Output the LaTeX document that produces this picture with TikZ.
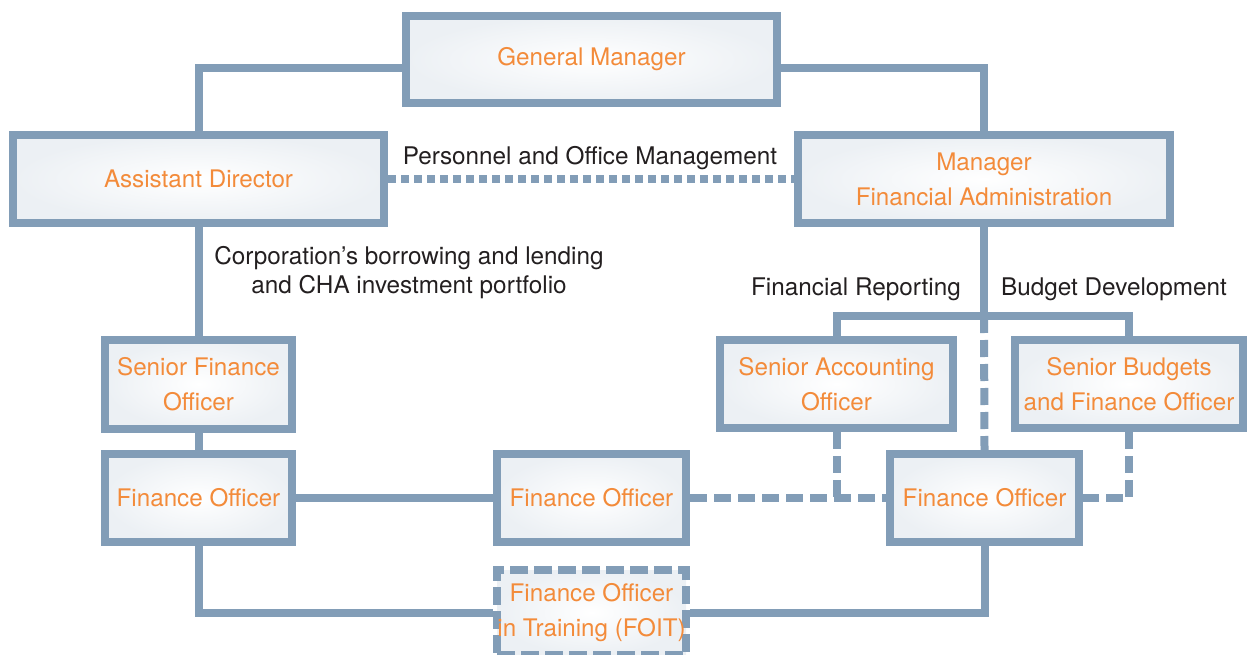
\documentclass[tikz,border=0pt]{standalone}
\usepackage{fontspec}
\setmainfont{TeX Gyre Heros}
\definecolor{lineblue}{RGB}{130,157,183}
\definecolor{orangetxt}{RGB}{243,139,58}
\definecolor{boxedge}{RGB}{236,240,244}
\definecolor{labeltxt}{RGB}{35,31,32}
\tikzset{
  orgbox/.style={draw=lineblue, line width=8pt, inner color=white, outer color=boxedge,
    text=orangetxt, align=center, inner sep=0pt, font=\fontsize{24.2}{35}\selectfont},
  conn/.style={draw=lineblue, line width=8pt},
  dashconn/.style={conn, dash pattern=on 17pt off 7pt},
  dotconn/.style={conn, dash pattern=on 8pt off 5pt},
  lbl/.style={text=labeltxt, align=center, inner sep=0pt, font=\fontsize{24.3}{29}\selectfont},
}
\begin{document}
\begin{tikzpicture}[x=1pt,y=-1pt]
\useasboundingbox (0,0) rectangle (1249,655);
% boxes
\node[orgbox, minimum width=371pt, minimum height=87pt] (GM) at (591.5,59.5) {General Manager};
\node[orgbox, minimum width=371pt, minimum height=88pt] (AD) at (198.5,179) {Assistant Director};
\node[orgbox, minimum width=372pt, minimum height=88pt] (MFA) at (984,179) {Manager\\Financial Administration};
\node[orgbox, minimum width=187pt, minimum height=89pt] (SFO) at (198.5,384) {Senior Finance\\Officer};
\node[orgbox, minimum width=187pt, minimum height=88pt] (FOL) at (198.5,498) {Finance Officer};
\node[orgbox, minimum width=189pt, minimum height=88pt] (FOM) at (591.5,498) {Finance Officer};
\node[orgbox, minimum width=189pt, minimum height=88pt] (FOR) at (984.5,498) {Finance Officer};
\node[orgbox, minimum width=233pt, minimum height=88pt] (SAO) at (836.5,384) {Senior Accounting\\Officer};
\node[orgbox, minimum width=228pt, minimum height=88pt] (SBFO) at (1129,384) {Senior Budgets\\and Finance Officer};
\node[orgbox, dash pattern=on 18pt off 6pt, minimum width=189pt, minimum height=85pt] (FOIT) at (591.5,612.5) {Finance Officer\\in Training (FOIT)};
% labels
\node[lbl] (lpom) at (590,158) {Personnel and Office Management};
\node[lbl] (lcorp) at (409,272.5) {Corporation’s borrowing and lending\\and CHA investment portfolio};
\node[lbl] (lfr) at (856,289) {Financial Reporting};
\node[lbl] (lbd) at (1114,289) {Budget Development};
% junction coordinates
\coordinate (gmL) at ([yshift=-9pt]GM.west);
\coordinate (gmR) at ([yshift=-9pt]GM.east);
\coordinate (jct) at (984,316);
% connectors
\draw[conn] (gmL) -| (AD.north);
\draw[conn] (gmR) -| (MFA.north);
\draw[dotconn] (AD.east) -- (MFA.west);
\draw[conn] (AD.south) -- (SFO.north);
\draw[conn] (SFO.south) -- (FOL.north);
\draw[conn] (FOL.east) -- (FOM.west);
\draw[dashconn] (FOM.east) -- (FOR.west);
\draw[dashconn] (SAO.south) -- (SAO.south |- FOM.east);
\draw[conn] (MFA.south) -- (jct);
\draw[conn] (SAO.north) |- (jct) -| (SBFO.north);
\draw[dashconn] (jct) -- (FOR.north);
\draw[dashconn] (SBFO.south) |- (FOR.east);
\draw[conn] (FOL.south) |- (FOIT.west);
\draw[conn] (FOIT.east) -| (FOR.south);
\end{tikzpicture}
\end{document}
